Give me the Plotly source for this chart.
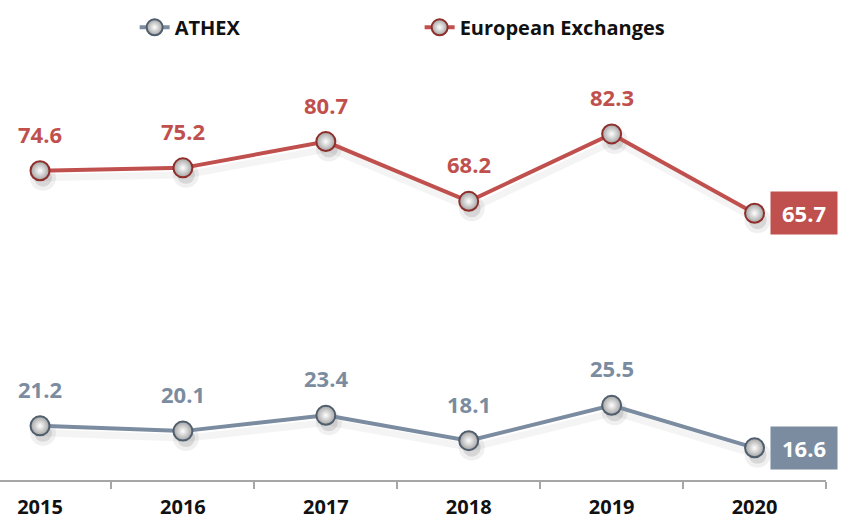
import plotly.graph_objects as go

years = ["2015", "2016", "2017", "2018", "2019", "2020"]
athex = [21.2, 20.1, 23.4, 18.1, 25.5, 16.6]
european = [74.6, 75.2, 80.7, 68.2, 82.3, 65.7]

RED = "#c0504d"
RED_DARK = "#8e2f2c"
GREY = "#7b8ca0"
GREY_DARK = "#4f5d6d"
FONT = "Open Sans"

Y_RANGE = [9.87, 99.87]
X_RANGE = [-0.28, 5.5]
PX_PER_Y = 430 / (Y_RANGE[1] - Y_RANGE[0])
PX_PER_X = 826 / (X_RANGE[1] - X_RANGE[0])
SHADOW_DY = 7 / PX_PER_Y
SHADOW_DX = 3 / PX_PER_X

fig = go.Figure()

def add_shadow(vals):
    fig.add_trace(go.Scatter(
        x=years, y=vals, mode="lines", showlegend=False, hoverinfo="skip",
        line=dict(color="rgba(0,0,0,0.045)", width=7), xaxis="x", yaxis="y"))
    fig.add_trace(go.Scatter(
        x=years, y=vals, mode="markers", showlegend=False, hoverinfo="skip",
        marker=dict(size=26, color="rgba(0,0,0,0.06)", line=dict(width=0)),
        xaxis="x", yaxis="y", cliponaxis=False))
    fig.add_trace(go.Scatter(
        x=years, y=vals, mode="markers", showlegend=False, hoverinfo="skip",
        marker=dict(size=18, color="rgba(0,0,0,0.10)", line=dict(width=0)),
        xaxis="x", yaxis="y", cliponaxis=False))

def add_series(name, vals, color, dark):
    fig.add_trace(go.Scatter(
        x=years, y=vals, name=name, mode="lines+markers",
        line=dict(color=color, width=4),
        marker=dict(size=19, color="#a3a3a3",
                    gradient=dict(type="radial", color="#ffffff"),
                    line=dict(color=dark, width=2)),
        xaxis="x2", yaxis="y2", cliponaxis=False,
    ))

add_shadow(athex)
add_shadow(european)
add_series("ATHEX", athex, GREY, GREY_DARK)
add_series("European Exchanges", european, RED, RED_DARK)

annotations = []
for vals, color in ((athex, GREY), (european, RED)):
    last = len(vals) - 1
    for i, v in enumerate(vals):
        if i < last:
            annotations.append(dict(
                x=i, y=v, xref="x2", yref="y2", text=f"{v:.1f}", showarrow=False,
                yshift=37,
                font=dict(family=FONT, size=22, color=color, weight="bold")))
        else:
            annotations.append(dict(
                x=i, y=v, xref="x2", yref="y2", text=f"{v:.1f}", showarrow=False,
                xshift=49, bgcolor=color, width=64, height=40,
                font=dict(family=FONT, size=22, color="#ffffff", weight="bold")))

fig.update_layout(
    width=844, height=520,
    margin=dict(l=0, r=18, t=50, b=40, autoexpand=False),
    paper_bgcolor="white", plot_bgcolor="white",
    showlegend=True,
    legend=dict(orientation="h", x=0.163, y=0.985, xanchor="left", yanchor="top",
                yref="container", entrywidth=240,
                font=dict(family=FONT, size=20, color="#111111", weight="bold")),
    annotations=annotations,
    xaxis=dict(type="category", categoryarray=years,
               range=[X_RANGE[0] - SHADOW_DX, X_RANGE[1] - SHADOW_DX],
               visible=False, showgrid=False, automargin=False),
    yaxis=dict(range=[Y_RANGE[0] + SHADOW_DY, Y_RANGE[1] + SHADOW_DY],
               visible=False, showgrid=False, zeroline=False, automargin=False),
    xaxis2=dict(type="category", categoryarray=years, overlaying="x", side="bottom",
                range=X_RANGE, showgrid=False, automargin=False,
                showline=True, linecolor="#a6a6a6", linewidth=2,
                ticks="outside", tickson="boundaries", ticklen=7, tickcolor="#a6a6a6",
                tickwidth=1.5, ticklabelstandoff=8,
                tickfont=dict(family=FONT, size=20, color="#111111", weight="bold")),
    yaxis2=dict(range=Y_RANGE, overlaying="y", visible=False, automargin=False,
                showgrid=False, zeroline=False),
)

post = "document.body.style.margin='0';"
fig.write_html("out.html", post_script=post, config={"displayModeBar": False})
